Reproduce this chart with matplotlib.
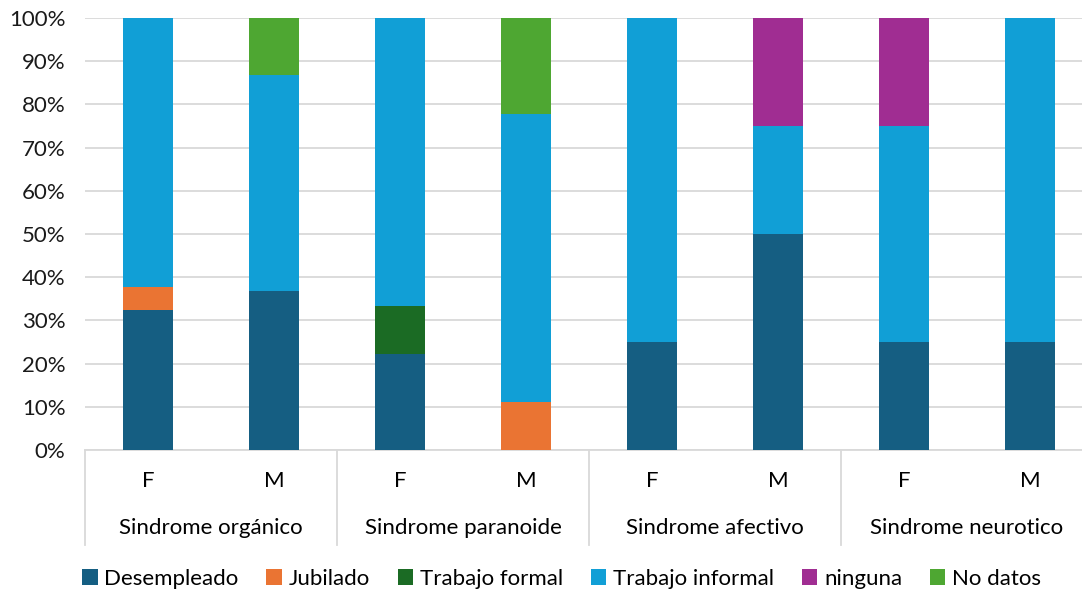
import matplotlib
matplotlib.use("Agg")
import matplotlib.pyplot as plt
from matplotlib.transforms import blended_transform_factory
from matplotlib.patches import Patch
import numpy as np

groups = ["Sindrome orgánico", "Sindrome paranoide", "Sindrome afectivo", "Sindrome neurotico"]
sexes = ["F", "M", "F", "M", "F", "M", "F", "M"]
series_names = ["Desempleado", "Jubilado", "Trabajo formal", "Trabajo informal", "ninguna", "No datos"]
colors = ["#155E82", "#EA7433", "#1B6B24", "#119FD6", "#A02D92", "#4EA732"]

desempleado      = [32.4, 36.7, 22.2, 0.0, 25.0, 50.0, 25.0, 25.0]
jubilado         = [5.4, 0.0, 0.0, 11.1, 0.0, 0.0, 0.0, 0.0]
trabajo_formal   = [0.0, 0.0, 11.1, 0.0, 0.0, 0.0, 0.0, 0.0]
trabajo_informal = [62.2, 50.0, 66.7, 66.7, 75.0, 25.0, 50.0, 75.0]
ninguna          = [0.0, 0.0, 0.0, 0.0, 0.0, 25.0, 25.0, 0.0]
no_datos         = [0.0, 13.3, 0.0, 22.2, 0.0, 0.0, 0.0, 0.0]

series = [desempleado, jubilado, trabajo_formal, trabajo_informal, ninguna, no_datos]

plt.rcParams["font.family"] = ["Lato", "DejaVu Sans"]
FS = 16

fig = plt.figure(figsize=(10.82, 5.92), dpi=100)
W, H = 1082, 592
ax = fig.add_axes([85 / W, (H - 450) / H, (1093 - 85) / W, (450 - 18) / H])

x = np.arange(len(sexes))
bottom = np.zeros(len(sexes))
for vals, col in zip(series, colors):
    v = np.array(vals, dtype=float)
    ax.bar(x, v, 0.397, bottom=bottom, color=col, zorder=3)
    bottom += v

ax.set_xlim(-0.5, len(sexes) - 0.5)
ax.set_ylim(0, 100)
ax.set_yticks(np.arange(0, 101, 10))
ax.set_yticklabels([f"{t}%" for t in range(0, 101, 10)], fontsize=FS, color="#1a1a1a")
ax.tick_params(axis="y", length=0, pad=14)
ax.set_xticks([])
ax.grid(axis="y", color="#D9D9D9", linewidth=1.3, zorder=0)
for s in ["top", "right", "left"]:
    ax.spines[s].set_visible(False)
ax.spines["bottom"].set_color("#D9D9D9")
ax.spines["bottom"].set_linewidth(1.3)

trans = blended_transform_factory(ax.transData, ax.transAxes)
ax_h = 450 - 18
def yoff(px):
    return -px / ax_h

for i, s in enumerate(sexes):
    ax.text(i, yoff(31), s, transform=trans, ha="center", va="center", fontsize=FS, color="#000000")
for g, name in enumerate(groups):
    ax.text(2 * g + 0.5, yoff(78), name, transform=trans, ha="center", va="center", fontsize=FS, color="#000000")
for b in [-0.5, 1.5, 3.5, 5.5, 7.5]:
    ax.plot([b, b], [0, yoff(95)], transform=trans, color="#D9D9D9", linewidth=1.3, clip_on=False)

handles = [Patch(facecolor=c, edgecolor="none") for c in colors]
fig.legend(handles, series_names, loc="center", bbox_to_anchor=(0.519, (H - 579) / H), ncol=6,
           frameon=False, fontsize=FS, handlelength=0.7, handleheight=0.7,
           handletextpad=0.3, columnspacing=1.25)

fig.savefig("out.png", dpi=100)
